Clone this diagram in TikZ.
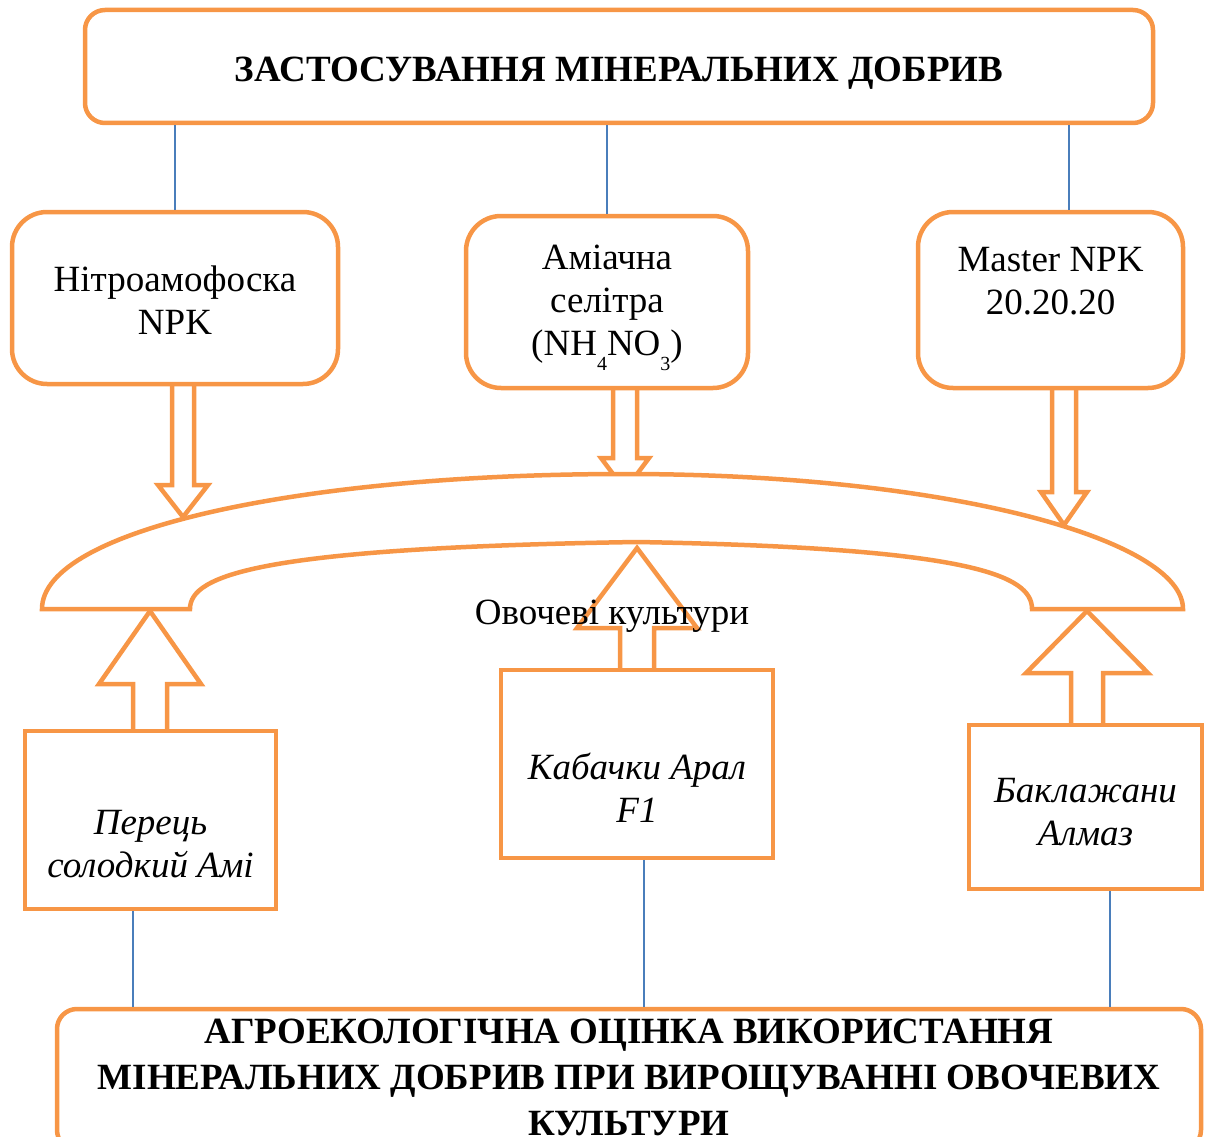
\documentclass[tikz,border=0pt]{standalone}
\usepackage{fontspec}
\setmainfont{Liberation Serif}
\definecolor{accent}{HTML}{F79646}
\definecolor{wire}{HTML}{4A7EBB}
\newcommand{\lowidx}[1]{\raisebox{-15pt}{\fontsize{20}{20}\selectfont #1}}
% text block moved down by #1 inside its box
\newcommand{\sink}[2]{\raisebox{-#1}[\height][\depth]{\begin{tabular}{@{}c@{}}#2\end{tabular}}}
% hollow block arrow: x, y start, y head base, y tip, shaft half, head half
\newcommand{\hollowarrow}[6]{%
  \draw[hollow] (#1-#5,#2) -- (#1-#5,#3) -- (#1-#6,#3) -- (#1,#4)
    -- (#1+#6,#3) -- (#1+#5,#3) -- (#1+#5,#2);}

\begin{document}
\begin{tikzpicture}[
    x=1pt,y=-1pt,
    fert/.style={%
      draw=accent,
      line width=4.5pt,
      rounded corners=35pt,
      inner sep=0pt,
      font={\fontsize{37}{43}\selectfont},
    },
    headbox/.style={%
      fert,
      rounded corners=20pt,
      font={\bfseries\fontsize{37}{46}\selectfont},
    },
    crop/.style={%
      draw=accent,
      line width=4.5pt,
      inner sep=0pt,
      font={\itshape\fontsize{37}{43}\selectfont},
    },
    hollow/.style={draw=accent, line width=4.5pt},
    link/.style={draw=wire, line width=1.2pt},
  ]
    \useasboundingbox (0,0) rectangle (1208,1137);

    \node [headbox, minimum width=1068pt, minimum height=113pt] (top) at (619,66.5)
      {\sink{5.5pt}{ЗАСТОСУВАННЯ МІНЕРАЛЬНИХ ДОБРИВ}};

    \node [fert, minimum width=326pt, minimum height=172pt] (nitro) at (175,298)
      {\sink{6.5pt}{Нітроамофоска\\NPK}};
    \node [fert, minimum width=282pt, minimum height=172pt] (ammon) at (607,302)
      {\sink{3pt}{Аміачна\\селітра\\(NH\lowidx{4}NO\lowidx{3})}};
    \node [fert, minimum width=265pt, minimum height=176pt] (master) at (1050.5,300)
      {\sink{-15.5pt}{Master NPK\\20.20.20}};

    \draw [link] (top.south -| nitro) -- (nitro);
    \draw [link] (top.south -| ammon) -- (ammon);
    \draw [link] ([xshift=18.5pt]master.north) -- ([xshift=18.5pt]master.north |- top.south);

    \hollowarrow{183}{384}{485}{517}{11}{25}
    \hollowarrow{625}{388}{458}{490}{12}{24}
    \hollowarrow{1064}{388}{492}{525}{12}{23}

    % arch of the crops
    \draw [hollow, fill=white] (42,609) .. controls (42,530) and (300,474) .. (625,474)
      .. controls (950,474) and (1183,540) .. (1183,609) -- (1032,609)
      .. controls (1032,575) and (970,548) .. (637,542)
      .. controls (260,548) and (190,575) .. (190,609) -- cycle;

    \node [crop, minimum width=251pt, minimum height=178pt] (pepper) at (150.5,820)
      {\sink{27.5pt}{Перець\\солодкий Амі}};
    \node [crop, minimum width=272pt, minimum height=188pt] (zucchini) at (637,764)
      {\sink{28pt}{Кабачки Арал\\F1}};
    \node [crop, minimum width=233pt, minimum height=164pt] (eggplant) at (1085.5,807)
      {\sink{8.5pt}{Баклажани\\Алмаз}};

    \hollowarrow{150}{731}{684}{611}{17}{51}
    \hollowarrow{637}{670}{628}{548}{17}{60}
    \hollowarrow{1087}{725}{673}{611}{16}{61}

    \node [font={\fontsize{37}{43}\selectfont}] (veg) at (612,616) {Овочеві культури};

    \node [headbox, minimum width=1144pt, minimum height=141pt] (bottom) at (629,1079.5)
      {\sink{1pt}{АГРОЕКОЛОГІЧНА ОЦІНКА ВИКОРИСТАННЯ\\МІНЕРАЛЬНИХ ДОБРИВ ПРИ ВИРОЩУВАННІ ОВОЧЕВИХ\\КУЛЬТУРИ}};

    \draw [link] ([xshift=-17.5pt]pepper.south) -- ([xshift=-17.5pt]pepper.south |- bottom.north);
    \draw [link] ([xshift=7pt]zucchini.south) -- ([xshift=7pt]zucchini.south |- bottom.north);
    \draw [link] ([xshift=24.5pt]eggplant.south) -- ([xshift=24.5pt]eggplant.south |- bottom.north);
\end{tikzpicture}
\end{document}
